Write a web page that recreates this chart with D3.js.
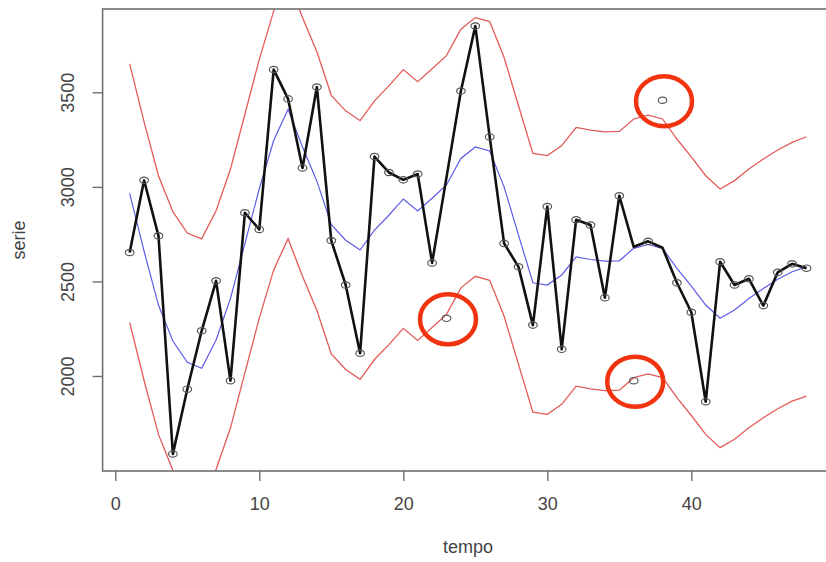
<!DOCTYPE html>
<html>
<head>
<meta charset="utf-8">
<script src="https://cdnjs.cloudflare.com/ajax/libs/d3/7.8.5/d3.min.js"></script>
<style>
  body { margin: 0; background: #fff; }
  svg { display: block; font-family: "Liberation Sans", Arial, sans-serif; }
</style>
</head>
<body>
<svg id="chart"></svg>
<script>
let width = 826
let height = 562

// serie observada (tempo 1..48)
let tempo = d3.range(1, 49)
let serie = [2653, 3035, 2741, 1588, 1930, 2239, 2503, 1975, 2863, 2775,
             3620, 3465, 3100, 3528, 2716, 2481, 2120, 3160, 3076, 3037,
             3068, 2598, 2305, 3507, 3850, 3264, 2701, 2577, 2269, 2896,
             2141, 2826, 2798, 2414, 2953, 1975, 2712, 3458, 2493, 2337,
             1864, 2604, 2481, 2514, 2372, 2548, 2593, 2570]

// pontos atipicos e valor usado na linha
let outTempo = [23, 36, 38]
let outLinha = [3050, 2683, 2678]

// media suavizada e limites
let suave = [2966, 2660, 2375, 2185, 2072, 2041, 2190, 2410, 2700, 2990,
             3245, 3410, 3211, 3030, 2800, 2718, 2666, 2771, 2850, 2936,
             2872, 2940, 3010, 3150, 3211, 3190, 3000, 2745, 2493, 2481,
             2534, 2630, 2616, 2607, 2609, 2675, 2695, 2675, 2569, 2475,
             2375, 2305, 2349, 2410, 2463, 2511, 2551, 2577]
let limSup = [3650, 3344, 3059, 2869, 2756, 2725, 2874, 3094, 3384, 3674,
              3929, 4094, 3895, 3714, 3484, 3402, 3350, 3455, 3534, 3620,
              3556, 3624, 3694, 3834, 3895, 3874, 3684, 3429, 3177, 3165,
              3218, 3314, 3300, 3291, 3293, 3359, 3379, 3359, 3253, 3159,
              3059, 2989, 3033, 3094, 3147, 3195, 3235, 3265]
let limInf = [2282, 1976, 1691, 1501, 1388, 1357, 1506, 1726, 2016, 2306,
              2561, 2726, 2527, 2346, 2116, 2034, 1982, 2087, 2166, 2252,
              2188, 2256, 2326, 2466, 2527, 2506, 2316, 2061, 1809, 1797,
              1850, 1946, 1932, 1923, 1925, 1991, 2011, 1991, 1885, 1791,
              1691, 1621, 1665, 1726, 1779, 1827, 1867, 1893]

let xTicks = [0, 10, 20, 30, 40]
let yTicks = [2000, 2500, 3000, 3500]

let plot = {left: 102.6, right: 833.6, top: 9, bottom: 471}

let svg = d3.select('#chart')
            .attr('width', width)
            .attr('height', height)

// dominio como no R: extensao de 4%
let xExt = d3.extent(tempo)
let yExt = d3.extent(serie)
let xPad = (xExt[1] - xExt[0]) * 0.04
let yPad = (yExt[1] - yExt[0]) * 0.04

let xScale = d3.scaleLinear()
               .domain([xExt[0] - xPad, xExt[1] + xPad])
               .range([plot.left, plot.right])
let yScale = d3.scaleLinear()
               .domain([yExt[0] - yPad, yExt[1] + yPad])
               .range([plot.bottom, plot.top])

svg.append('rect')
   .attr('width', width)
   .attr('height', height)
   .attr('fill', '#fff')

svg.append('clipPath')
   .attr('id', 'clip')
   .append('rect')
   .attr('x', plot.left)
   .attr('y', plot.top)
   .attr('width', plot.right - plot.left)
   .attr('height', plot.bottom - plot.top)

let g = svg.append('g').attr('clip-path', 'url(#clip)')

let line = (vals) => d3.line()
                       .x((d, i) => xScale(tempo[i]))
                       .y((d) => yScale(d))(vals)

g.append('path')
 .attr('d', line(limSup))
 .attr('fill', 'none')
 .attr('stroke', '#e35a5a')
 .attr('stroke-width', 1.3)

g.append('path')
 .attr('d', line(limInf))
 .attr('fill', 'none')
 .attr('stroke', '#e35a5a')
 .attr('stroke-width', 1.3)

g.append('path')
 .attr('d', line(suave))
 .attr('fill', 'none')
 .attr('stroke', '#5c5ce8')
 .attr('stroke-width', 1.2)

let linha = serie.map((v, i) => {
    let k = outTempo.indexOf(tempo[i])
    return k >= 0 ? outLinha[k] : v
})

g.append('path')
 .attr('d', line(linha))
 .attr('fill', 'none')
 .attr('stroke', '#111')
 .attr('stroke-width', 2.6)
 .attr('stroke-linejoin', 'round')

g.selectAll('.pt')
 .data(serie)
 .enter()
 .append('ellipse')
 .attr('class', 'pt')
 .attr('cx', (d, i) => xScale(tempo[i]))
 .attr('cy', (d) => yScale(d))
 .attr('rx', 4.3)
 .attr('ry', 3.2)
 .attr('fill', 'none')
 .attr('stroke', '#555')
 .attr('stroke-width', 1.2)

// box
svg.append('rect')
   .attr('x', plot.left)
   .attr('y', plot.top)
   .attr('width', plot.right - plot.left)
   .attr('height', plot.bottom - plot.top)
   .attr('fill', 'none')
   .attr('stroke', '#707070')
   .attr('stroke-width', 1.6)

let xAxis = d3.axisBottom(xScale)
              .tickValues(xTicks)
              .tickFormat(d3.format('d'))
              .tickSize(10)
              .tickPadding(16)
let yAxis = d3.axisLeft(yScale)
              .tickValues(yTicks)
              .tickFormat(d3.format('d'))
              .tickSize(10)

let gx = svg.append('g')
            .attr('transform', 'translate(0,' + plot.bottom + ')')
            .call(xAxis)
gx.select('.domain').remove()

let gy = svg.append('g')
            .attr('transform', 'translate(' + plot.left + ',0)')
            .call(yAxis)
gy.select('.domain').remove()
gy.selectAll('text')
  .attr('transform', 'rotate(-90)')
  .attr('x', 0)
  .attr('y', -29)
  .attr('dy', 0)
  .attr('text-anchor', 'middle')

svg.selectAll('.tick line')
   .attr('stroke', '#707070')
   .attr('stroke-width', 1.4)
svg.selectAll('.tick text')
   .attr('fill', '#444')
   .style('font-size', '18px')
   .style('font-family', '"Liberation Sans", Arial, sans-serif')

svg.append('text')
   .attr('x', (plot.left + plot.right) / 2)
   .attr('y', 553)
   .attr('text-anchor', 'middle')
   .attr('fill', '#444')
   .style('font-size', '18px')
   .text('tempo')

svg.append('text')
   .attr('transform', 'translate(25,240) rotate(-90)')
   .attr('text-anchor', 'middle')
   .attr('fill', '#444')
   .style('font-size', '18px')
   .text('serie')

// destaque dos atipicos
svg.selectAll('.destaque')
   .data(outTempo)
   .enter()
   .append('ellipse')
   .attr('class', 'destaque')
   .attr('cx', (d) => xScale(d) + 1.5)
   .attr('cy', (d) => yScale(serie[d - 1]) + 1)
   .attr('rx', 28)
   .attr('ry', 25)
   .attr('fill', 'none')
   .attr('stroke', '#f2330f')
   .attr('stroke-width', 4.5)
</script>
</body>
</html>
